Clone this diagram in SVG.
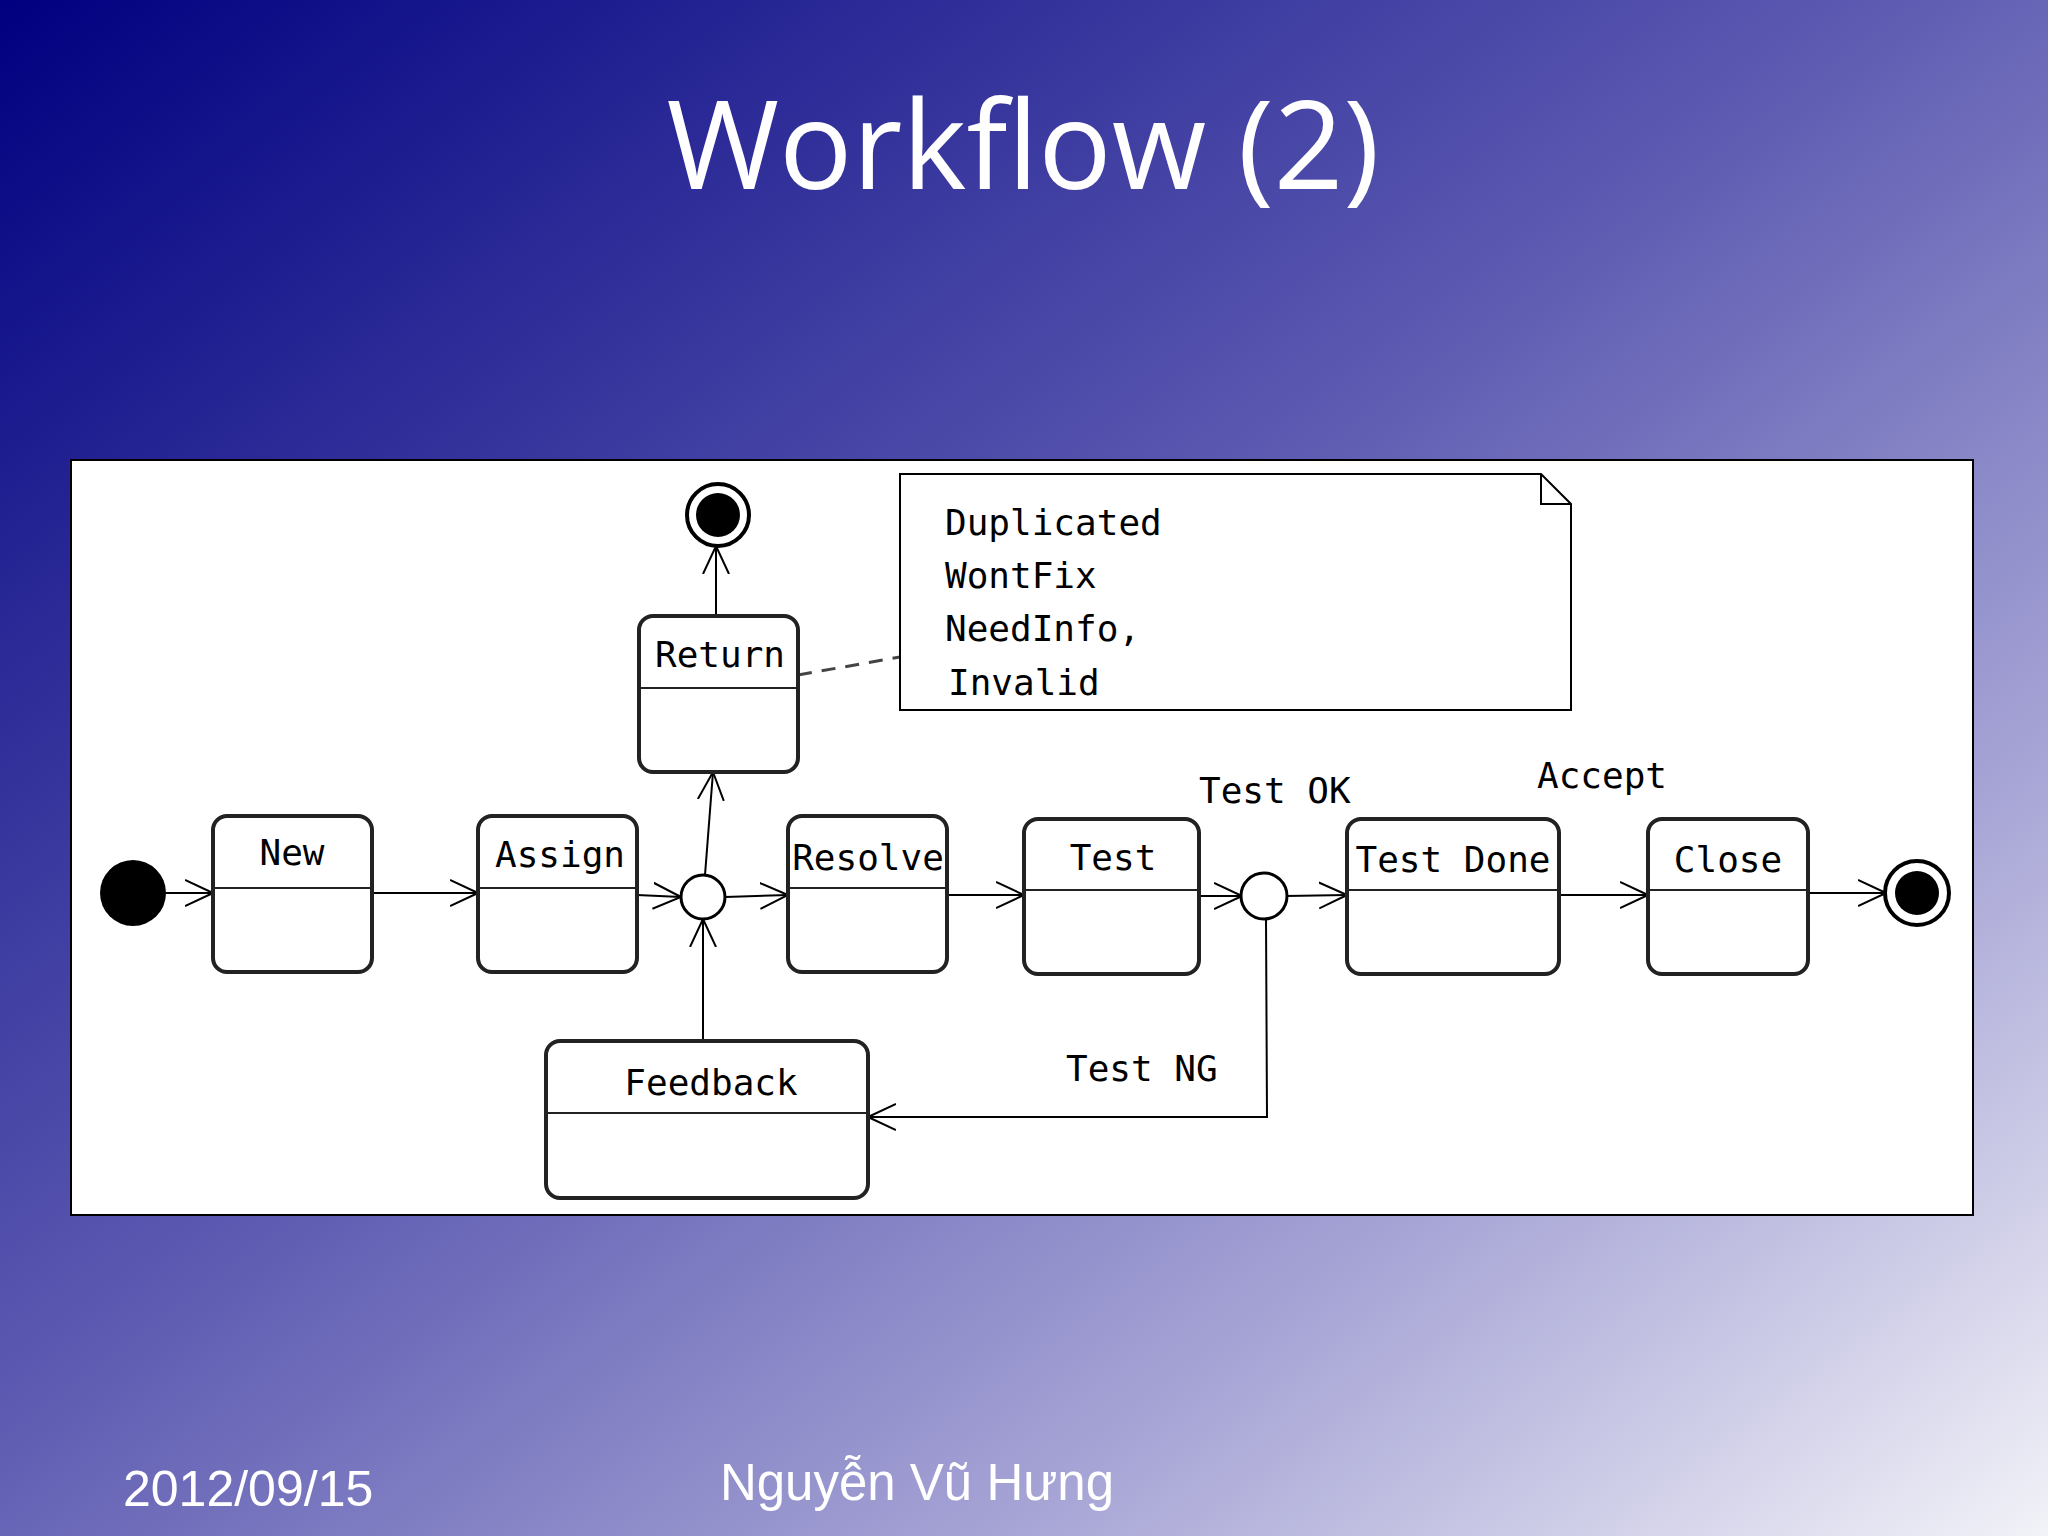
<svg xmlns="http://www.w3.org/2000/svg" width="2048" height="1536" viewBox="0 0 2048 1536">
<defs>
<linearGradient id="bg" x1="0" y1="0" x2="1" y2="1">
<stop offset="0" stop-color="#000080"/>
<stop offset="0.45" stop-color="#5a58b0"/>
<stop offset="0.75" stop-color="#a8a6d6"/>
<stop offset="1" stop-color="#f2f2f8"/>
</linearGradient>
<marker id="ar" viewBox="0 0 30 30" refX="28" refY="15" markerWidth="30" markerHeight="30" markerUnits="userSpaceOnUse" orient="auto">
<path d="M0,2 L28,15 L0,28" fill="none" stroke="#000" stroke-width="2"/>
</marker>
<style>
.st{fill:#fff;stroke:#222;stroke-width:4}
.dv{stroke:#222;stroke-width:2}
.t{font-family:"DejaVu Sans Mono",monospace;font-size:36px;fill:#000;text-anchor:middle}
.c{fill:none;stroke:#000;stroke-width:2;marker-end:url(#ar)}
</style>
</defs>
<rect width="2048" height="1536" fill="url(#bg)"/>
<text x="1023" y="189" font-family="Open Sans, sans-serif" font-size="122" fill="#fff" text-anchor="middle">Workflow (2)</text>
<text x="123" y="1506" font-family="Liberation Sans, sans-serif" font-size="50" fill="#fff">2012/09/15</text>
<text x="917" y="1500" font-family="Liberation Sans, sans-serif" font-size="51" fill="#fff" text-anchor="middle">Nguyễn Vũ Hưng</text>
<rect x="71" y="460" width="1902" height="755" fill="#fff" stroke="#000" stroke-width="2"/>

<g id="connectors">
<line class="c" x1="166" y1="893" x2="213" y2="893"/>
<line class="c" x1="372" y1="893" x2="478" y2="893"/>
<line class="c" x1="637" y1="895" x2="681" y2="897"/>
<line class="c" x1="725" y1="897" x2="788" y2="895"/>
<line class="c" x1="705" y1="875" x2="713" y2="772"/>
<line class="c" x1="716" y1="616" x2="716" y2="546"/>
<line class="c" x1="703" y1="1041" x2="703" y2="919"/>
<line class="c" x1="947" y1="895" x2="1024" y2="895"/>
<line class="c" x1="1199" y1="896" x2="1242" y2="896"/>
<line class="c" x1="1286" y1="896" x2="1347" y2="895"/>
<line class="c" x1="1559" y1="895" x2="1648" y2="895"/>
<line class="c" x1="1808" y1="893" x2="1886" y2="893"/>
<polyline class="c" points="1266,918 1267,1117 868,1117"/>
<line x1="798" y1="675" x2="900" y2="657" stroke="#444" stroke-width="3" stroke-dasharray="14,10"/>
</g>

<g id="start"><circle cx="133" cy="893" r="33" fill="#000"/></g>
<g id="new"><rect class="st" x="213" y="816" width="159" height="156" rx="14"/><line class="dv" x1="213" y1="888" x2="372" y2="888"/><text class="t" x="292" y="865">New</text></g>
<g id="assign"><rect class="st" x="478" y="816" width="159" height="156" rx="14"/><line class="dv" x1="478" y1="888" x2="637" y2="888"/><text class="t" x="560" y="867">Assign</text></g>
<g id="junction1"><circle cx="703" cy="897" r="22" fill="#fff" stroke="#000" stroke-width="3"/></g>
<g id="return"><rect class="st" x="639" y="616" width="159" height="156" rx="14"/><line class="dv" x1="639" y1="688" x2="798" y2="688"/><text class="t" x="720" y="667">Return</text></g>
<g id="end-top"><circle cx="718" cy="515" r="31" fill="#fff" stroke="#000" stroke-width="4"/><circle cx="718" cy="515" r="22" fill="#000"/></g>
<g id="resolve"><rect class="st" x="788" y="816" width="159" height="156" rx="14"/><line class="dv" x1="788" y1="888" x2="947" y2="888"/><text class="t" x="868" y="870">Resolve</text></g>
<g id="test"><rect class="st" x="1024" y="819" width="175" height="155" rx="14"/><line class="dv" x1="1024" y1="890" x2="1199" y2="890"/><text class="t" x="1113" y="870">Test</text></g>
<g id="junction2"><circle cx="1264" cy="896" r="23" fill="#fff" stroke="#000" stroke-width="3"/></g>
<g id="testdone"><rect class="st" x="1347" y="819" width="212" height="155" rx="14"/><line class="dv" x1="1347" y1="890" x2="1559" y2="890"/><text class="t" x="1453" y="872">Test Done</text></g>
<g id="close"><rect class="st" x="1648" y="819" width="160" height="155" rx="14"/><line class="dv" x1="1648" y1="890" x2="1808" y2="890"/><text class="t" x="1728" y="872">Close</text></g>
<g id="end"><circle cx="1917" cy="893" r="32" fill="#fff" stroke="#000" stroke-width="4"/><circle cx="1917" cy="893" r="22" fill="#000"/></g>
<g id="feedback"><rect class="st" x="546" y="1041" width="322" height="157" rx="14"/><line class="dv" x1="546" y1="1113" x2="868" y2="1113"/><text class="t" x="711" y="1095">Feedback</text></g>
<g id="note">
<path d="M900,474 H1541 L1571,504 V710 H900 Z" fill="#fff" stroke="#000" stroke-width="2"/>
<path d="M1541,474 V504 H1571" fill="none" stroke="#000" stroke-width="2"/>
<text class="t" style="text-anchor:start" x="945" y="535">Duplicated</text>
<text class="t" style="text-anchor:start" x="945" y="588">WontFix</text>
<text class="t" style="text-anchor:start" x="945" y="641">NeedInfo,</text>
<text class="t" style="text-anchor:start" x="948" y="695">Invalid</text>
</g>
<text class="t" style="text-anchor:start" x="1199" y="803">Test OK</text>
<text class="t" style="text-anchor:start" x="1537" y="788">Accept</text>
<text class="t" style="text-anchor:start" x="1066" y="1081">Test NG</text>
</svg>
